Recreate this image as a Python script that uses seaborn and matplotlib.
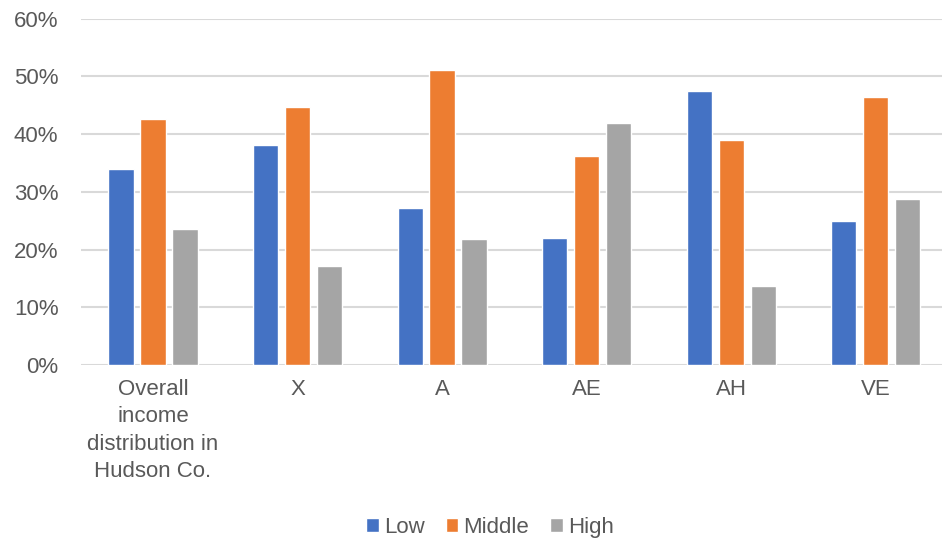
import matplotlib
matplotlib.use("Agg")
import matplotlib.pyplot as plt
import seaborn as sns
import pandas as pd
from matplotlib.ticker import FuncFormatter

# Share of households by income tier, per area
categories = ["Overall\nincome\ndistribution in\nHudson Co.", "X", "A", "AE", "AH", "VE"]
tiers = ["Low", "Middle", "High"]
low = [33.9, 38.2, 27.2, 22.0, 47.5, 25.0]
middle = [42.6, 44.7, 51.1, 36.2, 38.9, 46.4]
high = [23.6, 17.2, 21.8, 41.9, 13.7, 28.8]
y_ticks = [0, 10, 20, 30, 40, 50, 60]

colors = ["#4472C4", "#ED7D31", "#A5A5A5"]

rows = []
for tier, vals in zip(tiers, [low, middle, high]):
    for cat, v in zip(categories, vals):
        rows.append({"area": cat, "tier": tier, "share": v})
df = pd.DataFrame(rows)

sns.set_theme(style="white")
plt.rcParams["font.family"] = ["Liberation Sans", "DejaVu Sans"]

fig = plt.figure(figsize=(9.42, 5.43), dpi=100)
ax = fig.add_axes([80.7 / 942, 178 / 543, (948 - 80.7) / 942, (365 - 18.7) / 543])

sns.barplot(data=df, x="area", y="share", hue="tier", order=categories,
            hue_order=tiers, palette=colors, width=0.663, gap=0.21,
            saturation=1, ax=ax, legend=True)

ax.set_ylim(0, 60)
ax.set_yticks(y_ticks)
ax.yaxis.set_major_formatter(FuncFormatter(lambda v, _: f"{v:.0f}%"))
ax.set_xlabel("")
ax.set_ylabel("")
ax.grid(axis="y", color="#D9D9D9", linewidth=1.5)
ax.set_axisbelow(True)
for s in ax.spines.values():
    s.set_visible(False)
ax.tick_params(axis="y", length=0, pad=16, labelsize=16, labelcolor="#595959")
ax.tick_params(axis="x", length=0, pad=10, labelsize=16, labelcolor="#595959")
for lbl in ax.get_xticklabels():
    lbl.set_linespacing(1.4)

handles, labels = ax.get_legend_handles_labels()
ax.get_legend().remove()
fig.legend(handles, labels, loc="center", bbox_to_anchor=(490 / 942, 15.5 / 543),
           ncol=3, frameon=False, fontsize=16, labelcolor="#595959",
           handlelength=0.57, handleheight=0.57, handletextpad=0.23,
           columnspacing=0.95, borderpad=0)

fig.savefig("out.png", dpi=100)
